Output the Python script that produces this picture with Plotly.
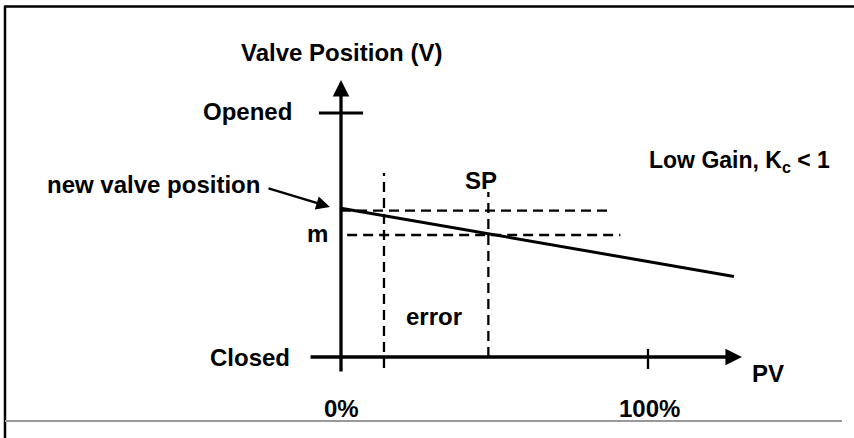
import plotly.graph_objects as go

# ---- data (diagram values, PV in %, valve position in %) ----
pv_setpoint = 48          # SP
pv_measured = 14          # current PV
m_value = 50              # controller bias m
v_new = 60                # new valve position
line_pv = [0, 128]        # proportional line (low gain)
line_v = [61, 33]
pv_ticks = [0, 100]
pv_tick_labels = ["0%", "100%"]
v_ticks = [0, 100]
v_tick_labels = ["Closed", "Opened"]

# pixel scale of the drawing (layout only)
W, H = 854, 438
X0PX, Y0PX = 341, 357
SX, SY = 3.07, 2.44
xr = [-X0PX / SX, (W - X0PX) / SX]
yr = [(Y0PX - H) / SY, Y0PX / SY]

FONT = "Liberation Sans, Arial, sans-serif"
FS = 24

fig = go.Figure()

def seg(xs, ys, width=2, dash=None):
    fig.add_trace(go.Scatter(x=xs, y=ys, mode="lines", hoverinfo="skip",
                             line=dict(color="black", width=width, dash=dash),
                             showlegend=False))

# proportional line
seg(line_pv, line_v, width=3)
# dashed guides
dash = "10px,6px"
seg([0, 88.6], [v_new, v_new], width=2.3, dash=dash)
seg([2, 91], [m_value, m_value], width=2.3, dash=dash)
seg([pv_measured, pv_measured], [-4.5, 75.4], width=2.3, dash=dash)
seg([pv_setpoint, pv_setpoint], [0, 67.6], width=2.3, dash=dash)
# ticks
seg([-7.2, 7.2], [v_ticks[1], v_ticks[1]], width=3)
seg([pv_ticks[1], pv_ticks[1]], [3.3, -4.9], width=2.3)

annotations = []
def arrow(x, y, ax, ay, width=3, size=1.0):
    annotations.append(dict(x=x, y=y, ax=ax, ay=ay, xref="x", yref="y",
                            axref="x", ayref="y", text="", showarrow=True,
                            arrowhead=2, arrowsize=size, arrowwidth=width,
                            arrowcolor="black"))

# axes with arrowheads
arrow(130.6, 0, -10.4, 0, width=3.3)
arrow(0, 113.5, 0, -6.6, width=3.3)
# pointer to new valve position
arrow(-3.6, 61.5, -24.1, 69.3, width=2.5, size=1.1)

def label(txt, x, y, xanchor="center", size=FS):
    annotations.append(dict(x=x, y=y, xref="x", yref="y", text="<b>" + txt + "</b>",
                            showarrow=False, xanchor=xanchor, yanchor="middle",
                            font=dict(family=FONT, size=size, color="black")))

label("Valve Position (V)", 0.2, 124.6)
label(v_tick_labels[1], -15.3, 100.5, "right")
label(v_tick_labels[0], -16, 0, "right")
label("new valve position", -96.4, 70.5, "left")
label("m", -7.8, 50.5)
label("SP", 45.6, 72.5)
label("error", 30.3, 16.8)
label("PV", 139, -6.6)
label(pv_tick_labels[0], pv_ticks[0], -20.9)
label(pv_tick_labels[1], pv_ticks[1] + 0.6, -20.9)
label("Low Gain, K<sub>c</sub> &lt; 1", 99.7, 80.2, "left", size=23)

# frame lines
shapes = [
    dict(type="line", xref="paper", yref="paper", x0=5 / W, x1=1, y0=1 - 6.5 / H, y1=1 - 6.5 / H,
         line=dict(color="black", width=2.5)),
    dict(type="line", xref="paper", yref="paper", x0=5 / W, x1=5 / W, y0=1 - 5.5 / H, y1=0,
         line=dict(color="black", width=2.5)),
    dict(type="line", xref="paper", yref="paper", x0=5 / W, x1=842 / W, y0=1 - 421 / H, y1=1 - 421 / H,
         line=dict(color="#999999", width=2)),
]

fig.update_layout(
    width=W, height=H, margin=dict(l=0, r=0, t=0, b=0),
    paper_bgcolor="white", plot_bgcolor="white",
    xaxis=dict(range=xr, visible=False, fixedrange=True),
    yaxis=dict(range=yr, visible=False, fixedrange=True),
    annotations=annotations, shapes=shapes,
)

fig.write_html("out.html", config={"displayModeBar": False},
               post_script="document.body.style.margin='0';document.body.style.overflow='hidden';")
